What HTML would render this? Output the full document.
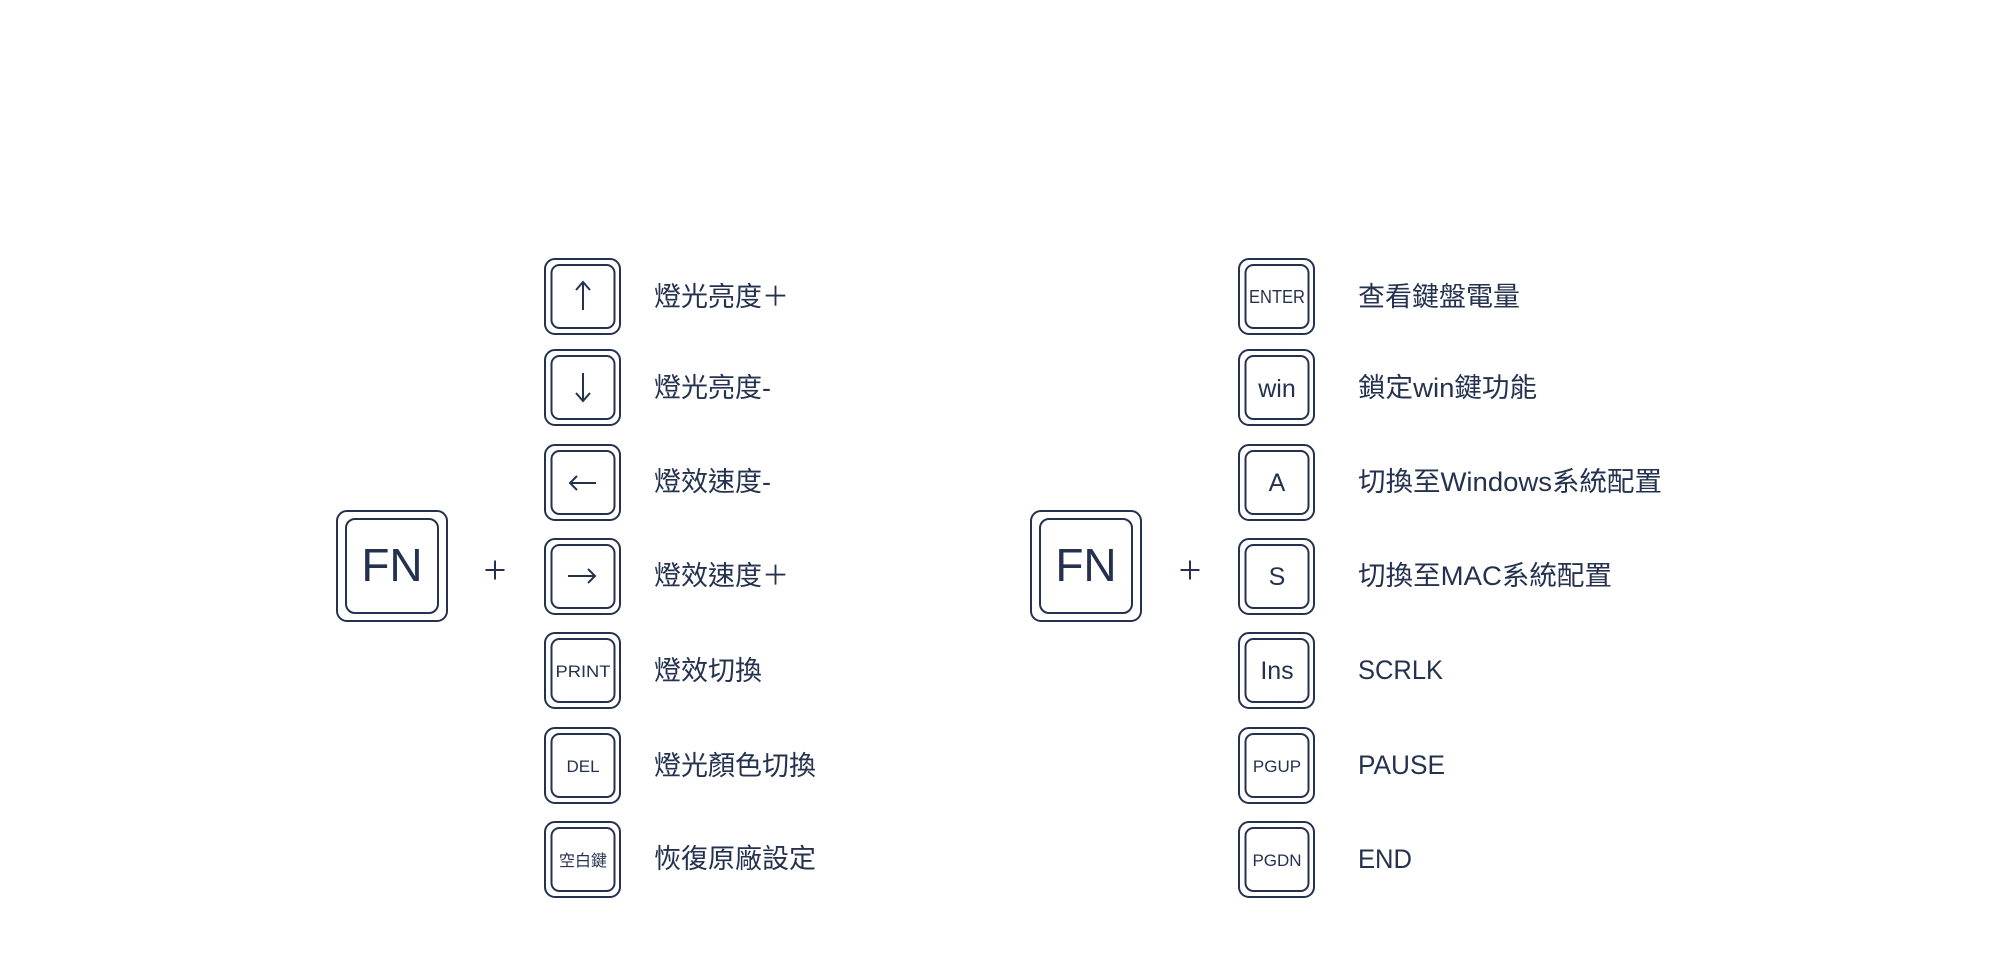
<!DOCTYPE html>
<html><head><meta charset="utf-8"><style>
html,body{margin:0;padding:0;background:#fff;}
svg{display:block;}
text{fill:#25324f;font-family:"Liberation Sans","Noto Sans CJK TC",sans-serif;}
</style></head><body>
<svg width="2000" height="980" viewBox="0 0 2000 980" xmlns="http://www.w3.org/2000/svg">
<defs>
<g id="k">
<rect x="1" y="1" width="75" height="75" rx="10" fill="none" stroke="#25324f" stroke-width="2"/>
<rect x="7.5" y="7" width="63" height="63" rx="8" fill="none" stroke="#25324f" stroke-width="2"/>
</g>
<g id="fn">
<rect x="1" y="1" width="110" height="110" rx="10" fill="none" stroke="#25324f" stroke-width="2"/>
<rect x="10" y="9" width="92" height="94" rx="9" fill="none" stroke="#25324f" stroke-width="2"/>
<text x="56" y="71" font-size="46" text-anchor="middle">FN</text>
</g>
</defs>

<!-- Left group -->
<use href="#fn" x="336" y="510"/>
<path d="M485.5 570 H504.5 M495 560.5 V579.5" stroke="#25324f" stroke-width="2" fill="none"/>

<g font-size="27">
<use href="#k" x="544" y="258"/>
<path d="M583 310 V282 M576 290 L583 282 L590 290" stroke="#25324f" stroke-width="2" fill="none"/>
<use href="#k" x="544" y="349"/>
<path d="M583 373 V401 M576 393 L583 401 L590 393" stroke="#25324f" stroke-width="2" fill="none"/>
<use href="#k" x="544" y="444"/>
<path d="M596 483 H570 M577 476 L570 483 L577 490" stroke="#25324f" stroke-width="2" fill="none"/>
<use href="#k" x="544" y="538"/>
<path d="M568 576 H595 M588 569 L595 576 L588 583" stroke="#25324f" stroke-width="2" fill="none"/>
<use href="#k" x="544" y="632"/><text x="583" y="677" text-anchor="middle" font-size="17" textLength="55" lengthAdjust="spacingAndGlyphs">PRINT</text>
<use href="#k" x="544" y="727"/><text x="583" y="772" text-anchor="middle" font-size="17">DEL</text>
<use href="#k" x="544" y="821"/><text x="583" y="866" text-anchor="middle" font-size="16">空白鍵</text>

<text x="654" y="306">燈光亮度＋</text>
<text x="654" y="397">燈光亮度-</text>
<text x="654" y="491">燈效速度-</text>
<text x="654" y="585">燈效速度＋</text>
<text x="654" y="680">燈效切換</text>
<text x="654" y="775">燈光顏色切換</text>
<text x="654" y="868">恢復原廠設定</text>
</g>

<!-- Right group -->
<use href="#fn" x="1030" y="510"/>
<path d="M1180.5 570 H1199.5 M1190 560.5 V579.5" stroke="#25324f" stroke-width="2" fill="none"/>

<g font-size="27">
<use href="#k" x="1238" y="258"/><text x="1277" y="303" text-anchor="middle" font-size="18" textLength="56" lengthAdjust="spacingAndGlyphs">ENTER</text>
<use href="#k" x="1238" y="349"/><text x="1277" y="397" text-anchor="middle" font-size="25">win</text>
<use href="#k" x="1238" y="444"/><text x="1277" y="491" text-anchor="middle" font-size="25">A</text>
<use href="#k" x="1238" y="538"/><text x="1277" y="585" text-anchor="middle" font-size="25">S</text>
<use href="#k" x="1238" y="632"/><text x="1277" y="679" text-anchor="middle" font-size="25">Ins</text>
<use href="#k" x="1238" y="727"/><text x="1277" y="772" text-anchor="middle" font-size="17">PGUP</text>
<use href="#k" x="1238" y="821"/><text x="1277" y="866" text-anchor="middle" font-size="17">PGDN</text>

<text x="1358" y="306">查看鍵盤電量</text>
<text x="1358" y="397" textLength="179" lengthAdjust="spacingAndGlyphs">鎖定win鍵功能</text>
<text x="1358" y="491" textLength="304" lengthAdjust="spacingAndGlyphs">切換至Windows系統配置</text>
<text x="1358" y="585" textLength="254" lengthAdjust="spacingAndGlyphs">切換至MAC系統配置</text>
<text x="1358" y="679" textLength="85" lengthAdjust="spacingAndGlyphs">SCRLK</text>
<text x="1358" y="774" textLength="87" lengthAdjust="spacingAndGlyphs">PAUSE</text>
<text x="1358" y="868" textLength="54" lengthAdjust="spacingAndGlyphs">END</text>
</g>
</svg>
</body></html>
